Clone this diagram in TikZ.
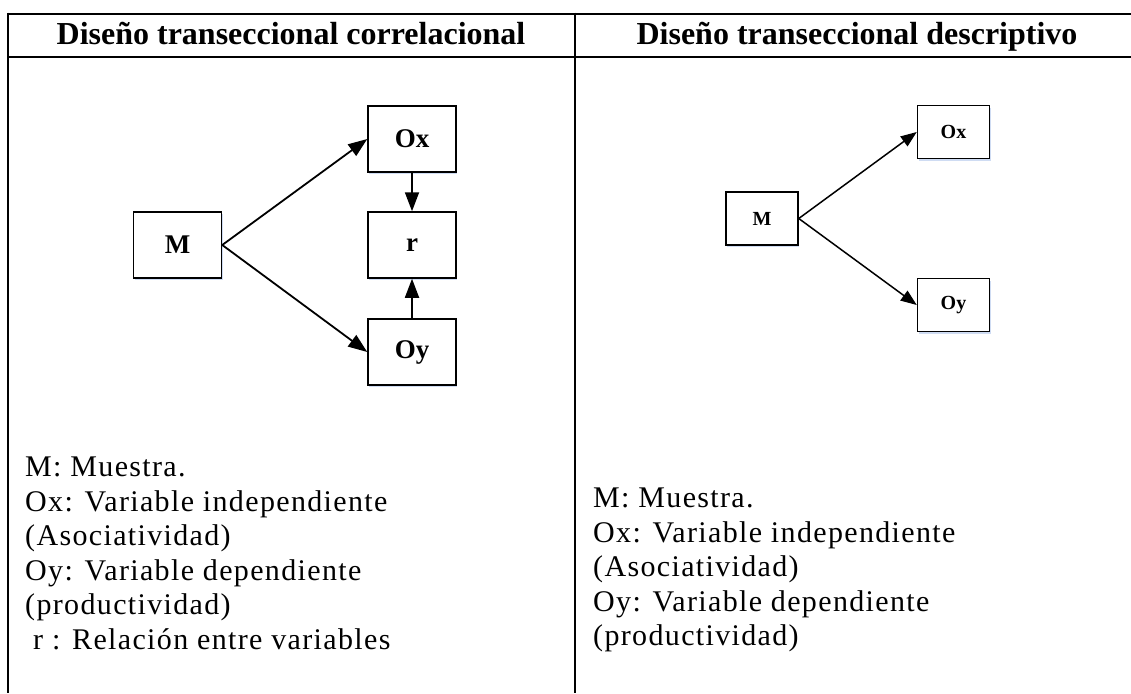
\documentclass[tikz,border=0pt]{standalone}
\usepackage{fontspec}
\setmainfont{Liberation Serif}
\usetikzlibrary{arrows.meta,shadows}
\definecolor{shadowblue}{RGB}{196,212,240}
\begin{document}
\begin{tikzpicture}[x=1pt,y=-1pt,
  rule/.style={line width=2.6pt},
  hdr/.style={anchor=base, inner sep=0pt, font=\fontsize{32}{36}\selectfont\bfseries},
  boxbase/.style={draw, line width=1.5pt, inner sep=0pt, fill=white,
    drop shadow={shadow xshift=1.2pt, shadow yshift=-2.2pt, fill=shadowblue, opacity=0.8}},
  boxL/.style={boxbase, minimum width=88pt, minimum height=66pt, font=\fontsize{27}{30}\selectfont\bfseries},
  boxR/.style={boxbase, minimum width=72pt, minimum height=53pt, font=\fontsize{20}{24}\selectfont\bfseries},
  arrL/.style={line width=1.8pt, -{Triangle[length=19pt,width=14pt]}},
  arrR/.style={line width=1.5pt, -{Triangle[length=16pt,width=12pt]}},
  legend/.style={anchor=base west, inner sep=0pt, font=\fontsize{30}{34}\selectfont\addfontfeature{LetterSpace=4.5}}
]
\useasboundingbox (0,0) rectangle (1131,693);
\fill[white] (0,0) rectangle (1131,693);
% table rules
\draw[rule] (8,14) -- (1131,14);
\draw[rule] (8,57) -- (1131,57);
\draw[rule] (8,12.7) -- (8,693);
\draw[rule] (575,12.7) -- (575,693);
% headers
\node[hdr] (h1) at (291,45) {Diseño transeccional correlacional};
\node[hdr] (h2) at (857,45) {Diseño transeccional descriptivo};
% left diagram
\node[boxL] (m1) at (177.5,245) {M};
\node[boxL] (ox1) at (412,139) {Ox};
\node[boxL] (r1) at (412,245) {r};
\node[boxL] (oy1) at (412,352) {Oy};
\draw[arrL] (m1.east) -- (ox1.west);
\draw[arrL] (m1.east) -- (oy1.west);
\draw[arrL] (ox1.south) -- (r1.north);
\draw[arrL] (oy1.north) -- (r1.south);
% right diagram
\node[boxR] (m2) at (762,218.5) {M};
\node[boxR] (ox2) at (953.5,132) {Ox};
\node[boxR] (oy2) at (953.5,305) {Oy};
\draw[arrR] (m2.east) -- (ox2.west);
\draw[arrR] (m2.east) -- (oy2.west);
% left legend
\node[legend] (l1) at (25,476) {M: Muestra.};
\node[legend] (l2) at (25,511) {Ox: Variable independiente};
\node[legend] (l3) at (25,545) {(Asociatividad)};
\node[legend] (l4) at (25,580) {Oy: Variable dependiente};
\node[legend] (l5) at (25,614) {(productividad)};
\node[legend] (l6) at (33,649) {r : Relación entre variables};
% right legend
\node[legend] (rl1) at (593,507) {M: Muestra.};
\node[legend] (rl2) at (593,542) {Ox: Variable independiente};
\node[legend] (rl3) at (593,576) {(Asociatividad)};
\node[legend] (rl4) at (593,611) {Oy: Variable dependiente};
\node[legend] (rl5) at (593,645) {(productividad)};
\end{tikzpicture}
\end{document}
